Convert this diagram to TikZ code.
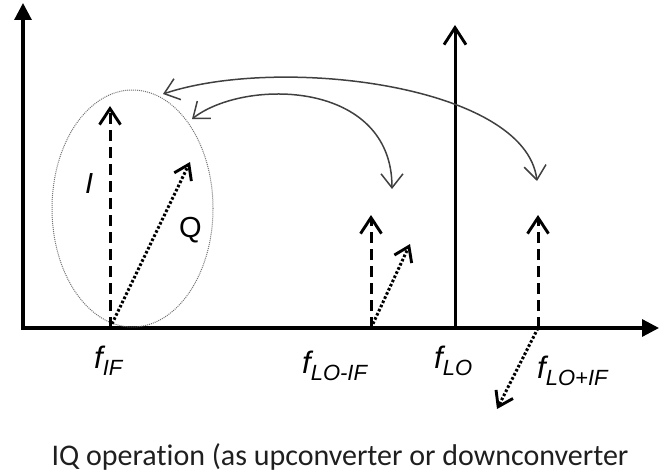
\documentclass[tikz,border=0pt]{standalone}
\usepackage{fontspec}
\setmainfont{Liberation Sans}
\newfontfamily\capfont[Ligatures=NoCommon]{Carlito}
\usetikzlibrary{arrows.meta,shapes.geometric}
\tikzset{
  axisline/.style={line width=3.2pt, black, -{Triangle[length=17pt,width=17pt]}},
  lobar/.style={line width=3pt, black, -{Straight Barb[length=17pt,width=22pt,line width=2.9pt]}},
  iarrow/.style={line width=3pt, black, dash pattern=on 11pt off 6pt, -{Straight Barb[length=16pt,width=21pt,line width=2.9pt]}},
  qarrow/.style={line width=3pt, black, dash pattern=on 2.6pt off 2pt, -{Straight Barb[length=14pt,width=19pt,line width=2.9pt]}},
  curvearrow/.style={line width=1.5pt, black!75, {Straight Barb[length=14pt,width=22pt,line width=1.5pt]}-{Straight Barb[length=14pt,width=22pt,line width=1.5pt]}},
  groupring/.style={shape=ellipse, draw=black!55, line width=1pt, dash pattern=on 1pt off 1pt},
  flabel/.style={anchor=base west, inner sep=0pt, font=\fontsize{31}{31}\selectfont\itshape},
  iqlabel/.style={anchor=base west, inner sep=0pt, font=\fontsize{29}{29}\selectfont},
  caption/.style={anchor=base, inner sep=0pt, font=\capfont\fontsize{30}{30}\selectfont, text=black!88}
}
\newcommand{\fsub}[1]{\raisebox{-7pt}{\fontsize{22}{22}\selectfont #1}}
\begin{document}
\begin{tikzpicture}[x=1pt,y=-1pt]
\useasboundingbox (0,0) rectangle (668,473);
% axes
\coordinate (origin) at (23,328);
\coordinate (ytop) at (23,3);
\coordinate (xend) at (659,328);
\draw[axisline] (origin) -- (ytop);
\draw[axisline] ([xshift=-1.6pt]origin) -- (xend);
% LO line
\coordinate (lobase) at (455,328);
\coordinate (lotop) at (455,25);
\draw[lobar] (lobase) -- (lotop);
% ellipse around IF group
\node[groupring, minimum width=161pt, minimum height=237pt, inner sep=0pt] (ring) at (132.5,208.5) {};
% IF group
\coordinate (ifbase) at (110,328);
\coordinate (iftipI) at (110,106);
\coordinate (iftipQ) at (190,162);
\draw[iarrow] (ifbase) -- (iftipI);
\draw[qarrow] (ifbase) -- (iftipQ);
% LO-IF group
\coordinate (lsbase) at (371,328);
\coordinate (lstipI) at (371,215);
\coordinate (lstipQ) at (410,244);
\draw[iarrow] (lsbase) -- (lstipI);
\draw[qarrow] (lsbase) -- (lstipQ);
% LO+IF group
\coordinate (usbase) at (538,328);
\coordinate (ustipI) at (538,215);
\coordinate (ustipQ) at (497,409);
\draw[iarrow] (usbase) -- (ustipI);
\draw[qarrow] (usbase) -- (ustipQ);
% curved arrows
\coordinate (longL) at (163,94);
\coordinate (longR) at (537,181);
\coordinate (shortL) at (192,119);
\coordinate (shortR) at (392,189);
\draw[curvearrow] (longL) .. controls (280,55) and (525,85) .. (longR);
\draw[curvearrow] (shortL) .. controls (245,78) and (392,80) .. (shortR);
% labels
\node[iqlabel, font=\fontsize{29}{29}\selectfont\itshape] (ilab) at (85,193) {I};
\node[iqlabel] (qlab) at (179,237) {Q};
\node[flabel] (fif) at (94,368) {f\fsub{IF}};
\node[flabel] (flomif) at (302,373) {f\fsub{LO-IF}};
\node[flabel] (flo) at (434,368) {f\fsub{LO}};
\node[flabel] (flopif) at (537,378) {f\fsub{LO+IF}};
\node[caption] (cap) at (340,465) {IQ operation (as upconverter or downconverter};
\end{tikzpicture}
\end{document}
